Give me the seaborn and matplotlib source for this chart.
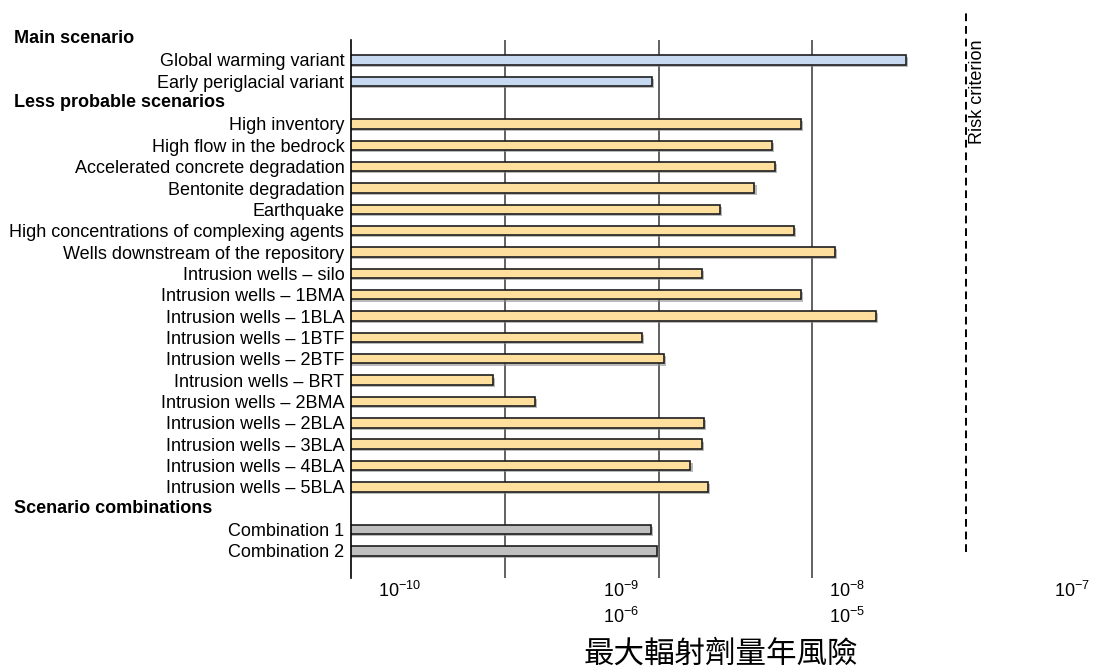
import numpy as np
import pandas as pd
import matplotlib
matplotlib.use("Agg")
import matplotlib.pyplot as plt
import matplotlib.patheffects as pe
import matplotlib.transforms as mtrans
import seaborn as sns

# data (annual risk, log scale)
scenarios = [
    "Global warming variant", "Early periglacial variant",
    "High inventory", "High flow in the bedrock", "Accelerated concrete degradation",
    "Bentonite degradation", "Earthquake", "High concentrations of complexing agents",
    "Wells downstream of the repository", "Intrusion wells – silo", "Intrusion wells – 1BMA",
    "Intrusion wells – 1BLA", "Intrusion wells – 1BTF", "Intrusion wells – 2BTF",
    "Intrusion wells – BRT", "Intrusion wells – 2BMA", "Intrusion wells – 2BLA",
    "Intrusion wells – 3BLA", "Intrusion wells – 4BLA", "Intrusion wells – 5BLA",
    "Combination 1", "Combination 2",
]
risk = [
    4.05e-8, 9.0e-10,
    8.4e-9, 5.43e-9, 5.74e-9, 4.2e-9, 2.49e-9, 7.62e-9, 1.41e-8, 1.91e-9, 8.45e-9,
    2.6e-8, 7.8e-10, 1.08e-9, 8.3e-11, 1.56e-10, 1.98e-9, 1.92e-9, 1.61e-9, 2.10e-9,
    8.9e-10, 9.7e-10,
]
groups = ["main"] * 2 + ["less"] * 18 + ["comb"] * 2
headers = ["Main scenario", "Less probable scenarios", "Scenario combinations"]
header_slots = [0, 3, 22]
group_colors = {"main": "#C6D9F0", "less": "#FFDF9E", "comb": "#BFBFBF"}

risk_criterion = 1e-7
tick_exp = [-10.683, -9.245, -7.775, -6.311]
tick_labels = [r"$\mathregular{10^{-10}}$", r"$\mathregular{10^{-9}}$",
               r"$\mathregular{10^{-8}}$", r"$\mathregular{10^{-7}}$"]
tick2_exp = [-9.245, -7.775]
tick2_labels = [r"$\mathregular{10^{-6}}$", r"$\mathregular{10^{-5}}$"]
grid_vals = [1e-10, 1e-9, 1e-8]

df = pd.DataFrame({"scenario": scenarios, "risk": risk, "group": groups})

# category order with blank slots where the section headers go
order = list(scenarios)
for k, s in enumerate(header_slots):
    order.insert(s, " " * (k + 1))

sns.set_style("white")
plt.rcParams["font.family"] = ["Liberation Sans", "DejaVu Sans"]
for key in ["text.color", "axes.labelcolor", "xtick.color", "ytick.color"]:
    plt.rcParams[key] = "black"

fig = plt.figure(figsize=(11.12, 6.70), dpi=100)
ax = fig.add_axes([0.3159, 0.1373, 0.6773, 0.803])

sns.barplot(data=df, x="risk", y="scenario", hue="group", order=order,
            palette=group_colors, saturation=1, dodge=False, width=0.44, errorbar=None,
            edgecolor="#1e1e1e", linewidth=1.2, legend=False, ax=ax)
ax.set_xscale("log", nonpositive="clip")

for p in ax.patches:
    p.set_path_effects([pe.SimplePatchShadow(offset=(1.5, -1.5), shadow_rgbFace="0.55", alpha=0.6),
                        pe.Normal()])

ax.set_xlim(1e-11, 10 ** -6.1)
ax.set_ylim(25.27, 0.066)

for g in grid_vals:
    ax.axvline(g, color="#555555", lw=1.3, zorder=0)

ax.axvline(risk_criterion, ymin=0.048, ymax=1.05, color="black", lw=1.4,
           ls=(0, (4, 2.5)), clip_on=False)
ax.text(10 ** -6.926, 1.0, "Risk criterion", rotation=90, ha="center", va="top",
        fontsize=13, transform=mtrans.blended_transform_factory(ax.transData, ax.transAxes))

for s in ["top", "right", "bottom"]:
    ax.spines[s].set_visible(False)
ax.spines["left"].set_color("black")
ax.spines["left"].set_linewidth(1.2)

# tick labels (second row sits under the 10^-9 and 10^-8 labels)
ax.xaxis.remove_overlapping_locs = False
ax.set_xticks([10 ** e for e in tick_exp], labels=tick_labels)
ax.set_xticks([10 ** e for e in tick2_exp], labels=tick2_labels, minor=True)
ax.tick_params(axis="x", which="major", length=0, pad=2, labelsize=13)
ax.tick_params(axis="x", which="minor", length=0, pad=21, labelsize=13)
ax.tick_params(axis="y", length=0, pad=5, labelsize=13)
ax.set_ylabel("")

# section headers
htrans = mtrans.blended_transform_factory(fig.transFigure, ax.transData)
for h, s in zip(headers, header_slots):
    ax.text(14 / 1112, s, h, fontsize=13, fontweight="bold", ha="left", va="center",
            transform=htrans, clip_on=False)

ax.set_xlabel("最大輻射劑量年風險", fontsize=22,
              family=["Noto Sans CJK TC", "DejaVu Sans"])
ax.xaxis.set_label_coords(0.491, -0.141)
ax.xaxis.label.set_va("center")

fig.savefig("out.png", dpi=100)
